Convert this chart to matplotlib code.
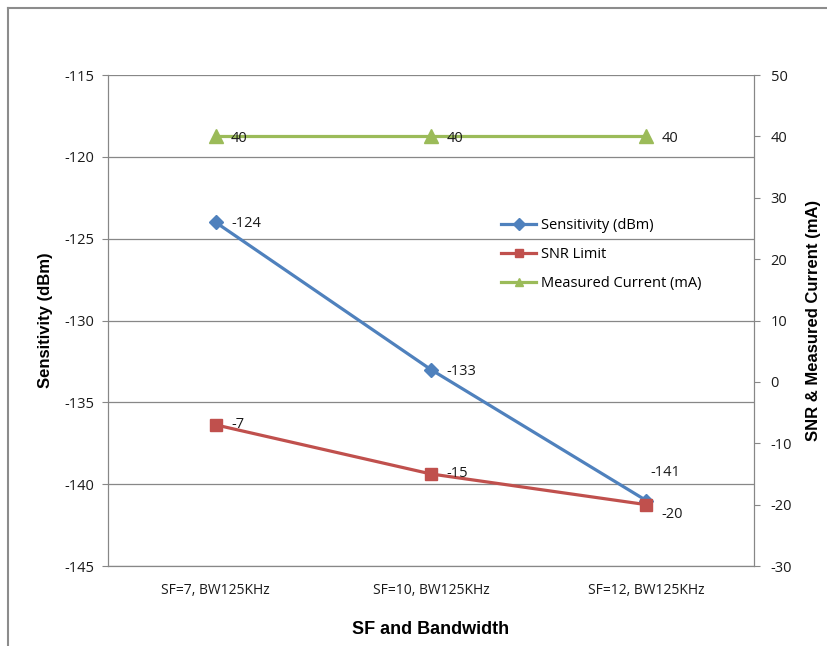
import matplotlib.pyplot as plt
from matplotlib.lines import Line2D

categories = ["SF=7, BW125KHz", "SF=10, BW125KHz", "SF=12, BW125KHz"]
sensitivity = [-124, -133, -141]
snr_limit = [-7, -15, -20]
current_ma = [40, 40, 40]

BLUE = "#4F81BD"
RED = "#C0504D"
GREEN = "#9BBB59"
GRID = "#878787"
TEXT = "#1a1a1a"

plt.rcParams["font.family"] = ["Open Sans", "DejaVu Sans"]
plt.rcParams["axes.unicode_minus"] = False

fig = plt.figure(figsize=(8.28, 6.46), dpi=100)
ax = fig.add_axes([0.1304, 0.1238, 0.7802, 0.7601])
ax2 = ax.twinx()

x = list(range(len(categories)))

# left axis: sensitivity
ax.plot(x, sensitivity, color=BLUE, lw=2.3, marker="D", ms=7,
        label="Sensitivity (dBm)", zorder=3)
ax.set_ylim(-145, -115)
ax.set_yticks(range(-145, -114, 5))
ax.set_xlim(-0.5, 2.5)
ax.set_xticks(x)
ax.set_xticklabels(categories)
ax.yaxis.grid(True, color=GRID, lw=0.9)
ax.set_axisbelow(True)

# right axis: SNR and current
ax2.plot(x, snr_limit, color=RED, lw=2.3, marker="s", ms=9,
         label="SNR Limit", zorder=3)
ax2.plot(x, current_ma, color=GREEN, lw=2.3, marker="^", ms=10,
         label="Measured Current (mA)", zorder=3)
ax2.set_ylim(-30, 50)
ax2.set_yticks(range(-30, 51, 10))

for a in (ax, ax2):
    for s in a.spines.values():
        s.set_color(GRID)
    a.tick_params(colors=GRID, labelcolor=TEXT, labelsize=10.5, length=4)
ax.tick_params(axis="x", length=0, pad=12, labelsize=10)
ax.tick_params(axis="y", pad=6)
ax2.tick_params(axis="y", pad=8)
ax2.spines["top"].set_visible(False)
ax.spines["top"].set_visible(False)

# data labels
lab = dict(fontsize=10.5, color=TEXT, va="center", zorder=5)
for i, v in enumerate(sensitivity):
    if i == 2:
        ax.annotate(str(v), (i, v), xytext=(14, 20), textcoords="offset points",
                    ha="center", **lab)
    else:
        ax.annotate(str(v), (i, v), xytext=(11, -1), textcoords="offset points",
                    ha="left", **lab)
for i, v in enumerate(snr_limit):
    dy = -7 if i == 2 else 0
    ax2.annotate(str(v), (i, v), xytext=(11, dy), textcoords="offset points",
                 ha="left", **lab)
for i, v in enumerate(current_ma):
    ax2.annotate(str(v), (i, v), xytext=(11, -1.5), textcoords="offset points",
                 ha="left", **lab)

ax.set_ylabel("Sensitivity (dBm)", family="Liberation Sans", fontweight="bold",
              fontsize=12, labelpad=8)
ax2.set_ylabel("SNR & Measured Current (mA)", family="Liberation Sans",
               fontweight="bold", fontsize=12, labelpad=10)
ax.set_xlabel("SF and Bandwidth", family="Liberation Sans", fontweight="bold",
              fontsize=13, labelpad=17)

handles = ax.get_lines()[:1] + ax2.get_lines()[:2]
leg = ax2.legend(handles, [h.get_label() for h in handles],
                 loc="upper left", bbox_to_anchor=(0.6, 0.72),
                 frameon=False, fontsize=10.5, handlelength=2.4,
                 handletextpad=0.3, labelspacing=0.95, borderaxespad=0)
for h in leg.legend_handles:
    h.set_markersize(6)

# chart area border (left and top edges)
fig.add_artist(Line2D([0.0097, 0.0097], [0, 0.9876], color="#8c8c8c", lw=1.5,
                      transform=fig.transFigure))
fig.add_artist(Line2D([0.0097, 1.0], [0.9876, 0.9876], color="#8c8c8c", lw=1.5,
                      transform=fig.transFigure))

fig.savefig("out.png", dpi=100)
